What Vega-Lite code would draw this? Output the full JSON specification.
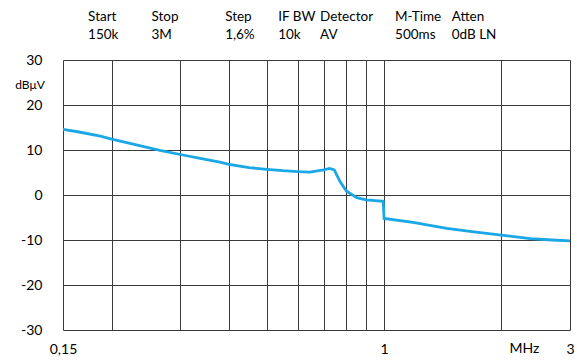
{
  "$schema": "https://vega.github.io/schema/vega-lite/v6.json",
  "width": 507,
  "height": 270,
  "autosize": {"type": "none"},
  "padding": {"left": 63, "top": 60, "right": 7, "bottom": 31},
  "background": "white",
  "config": {
    "view": {"stroke": null},
    "font": "Lato",
    "text": {"font": "Lato"}
  },
  "datasets": {
    "trace": [
      {"f": 0.15, "v": 14.6},
      {"f": 0.165, "v": 14.0},
      {"f": 0.187, "v": 13.1},
      {"f": 0.2, "v": 12.4},
      {"f": 0.23, "v": 11.2},
      {"f": 0.266, "v": 9.9},
      {"f": 0.3, "v": 9.0},
      {"f": 0.34, "v": 8.1},
      {"f": 0.379, "v": 7.3},
      {"f": 0.4, "v": 6.8},
      {"f": 0.45, "v": 6.1},
      {"f": 0.5, "v": 5.7},
      {"f": 0.55, "v": 5.4},
      {"f": 0.6, "v": 5.2},
      {"f": 0.645, "v": 5.1},
      {"f": 0.7, "v": 5.6},
      {"f": 0.725, "v": 5.9},
      {"f": 0.745, "v": 5.6},
      {"f": 0.771, "v": 3.0},
      {"f": 0.8, "v": 0.9},
      {"f": 0.851, "v": -0.6},
      {"f": 0.9, "v": -1.1},
      {"f": 0.995, "v": -1.4},
      {"f": 1.0, "v": -5.2},
      {"f": 1.186, "v": -6.1},
      {"f": 1.448, "v": -7.4},
      {"f": 1.7, "v": -8.2},
      {"f": 2.0, "v": -8.9},
      {"f": 2.37, "v": -9.7},
      {"f": 2.7, "v": -10.0},
      {"f": 3.0, "v": -10.2}
    ],
    "header": [
      {"at": 0.174, "name": "Start", "setting": "150k"},
      {"at": 0.253, "name": "Stop", "setting": "3M"},
      {"at": 0.391, "name": "Step", "setting": "1,6%"},
      {"at": 0.535, "name": "IF BW", "setting": "10k"},
      {"at": 0.685, "name": "Detector", "setting": "AV"},
      {"at": 1.067, "name": "M-Time", "setting": "500ms"},
      {"at": 1.491, "name": "Atten", "setting": "0dB LN"}
    ]
  },
  "layer": [
    {
      "data": {"name": "trace"},
      "mark": {"type": "line", "color": "#1aa7e6", "strokeWidth": 2.8, "clip": true},
      "encoding": {
        "x": {
          "field": "f",
          "type": "quantitative",
          "scale": {"type": "log", "domain": [0.15, 3], "nice": false},
          "axis": {
            "values": [0.15, 0.2, 0.3, 0.4, 0.5, 0.6, 0.7, 0.8, 0.9, 1, 2, 3],
            "labelExpr": "datum.value == 0.15 ? '0,15' : (datum.value == 1 ? '1' : (datum.value == 3 ? '3' : ''))",
            "grid": true,
            "gridColor": "#3a3a3a",
            "gridOpacity": 1,
            "gridWidth": 1,
            "domain": false,
            "ticks": false,
            "tickSize": 0,
            "labelPadding": 12,
            "labelFont": "Lato",
            "labelFontSize": 14,
            "labelColor": "#000",
            "labelFlush": false,
            "labelOverlap": false,
            "title": "MHz",
            "titleFont": "Lato",
            "titleFontSize": 14,
            "titleFontWeight": "normal",
            "titleColor": "#000",
            "titleX": 461,
            "titleY": 18,
            "titleAlign": "center",
            "titleBaseline": "middle"
          }
        },
        "y": {
          "field": "v",
          "type": "quantitative",
          "scale": {"domain": [-30, 30], "nice": false, "zero": false},
          "axis": {
            "values": [-30, -20, -10, 0, 10, 20, 30],
            "labelExpr": "toString(datum.value)",
            "grid": true,
            "gridColor": "#3a3a3a",
            "gridOpacity": 1,
            "gridWidth": 1,
            "domain": false,
            "ticks": false,
            "tickSize": 0,
            "labelPadding": 21,
            "labelFont": "Lato",
            "labelFontSize": 14,
            "labelColor": "#000",
            "labelFlush": false,
            "title": "dBμV",
            "titleFont": "Lato",
            "titleFontSize": 12,
            "titleFontWeight": "normal",
            "titleColor": "#000",
            "titleAngle": 0,
            "titleX": -33.5,
            "titleY": 24,
            "titleAlign": "center",
            "titleBaseline": "middle"
          }
        }
      }
    },
    {
      "data": {"name": "header"},
      "mark": {"type": "text", "align": "left", "baseline": "middle", "font": "Lato", "fontSize": 13.5, "color": "#000"},
      "encoding": {
        "x": {"field": "at", "type": "quantitative"},
        "y": {"datum": 39.6},
        "text": {"field": "name"}
      }
    },
    {
      "data": {"name": "header"},
      "mark": {"type": "text", "align": "left", "baseline": "middle", "font": "Lato", "fontSize": 13.5, "color": "#000"},
      "encoding": {
        "x": {"field": "at", "type": "quantitative"},
        "y": {"datum": 35.6},
        "text": {"field": "setting"}
      }
    }
  ]
}
